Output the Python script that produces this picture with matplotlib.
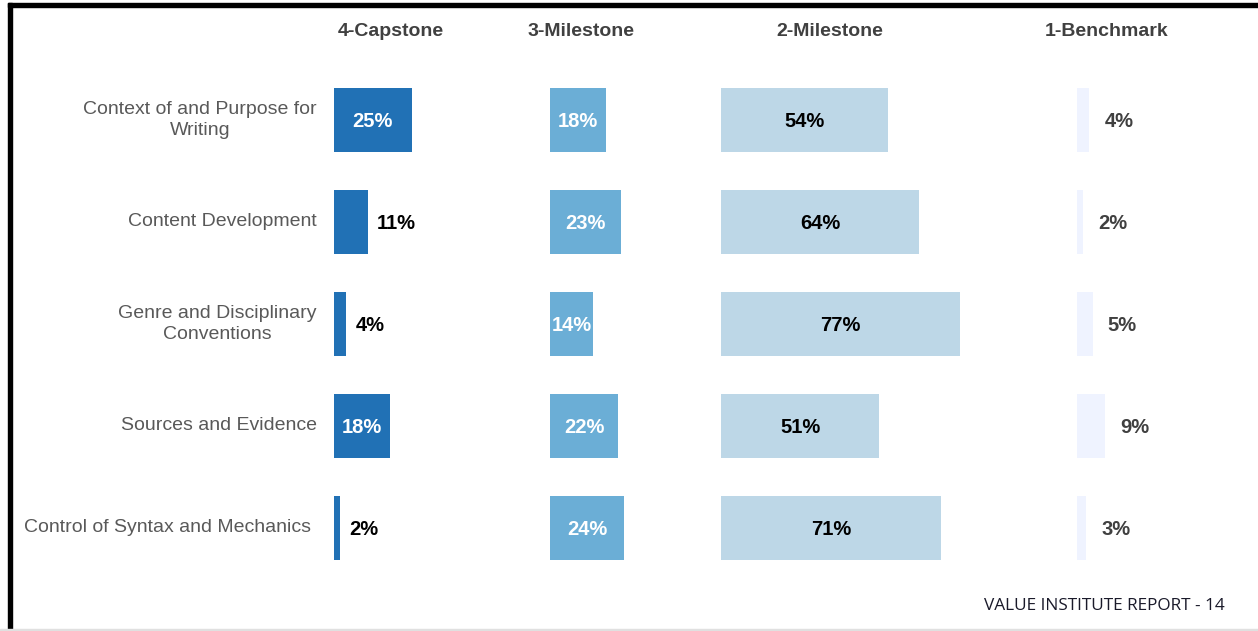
import matplotlib.pyplot as plt
from matplotlib.patches import Rectangle

categories = [
    'Context of and Purpose for\nWriting',
    'Content Development',
    'Genre and Disciplinary\nConventions',
    'Sources and Evidence',
    'Control of Syntax and Mechanics',
]
levels = ['4-Capstone', '3-Milestone', '2-Milestone', '1-Benchmark']
capstone = [25, 11, 4, 18, 2]
milestone3 = [18, 23, 14, 22, 24]
milestone2 = [54, 64, 77, 51, 71]
benchmark = [4, 2, 5, 9, 3]
series = [capstone, milestone3, milestone2, benchmark]

colors = ['#2171b5', '#6baed6', '#bdd7e7', '#eff3ff']
inside_color = ['white', 'white', 'black', 'black']
outside_color = ['black', 'black', 'black', '#404040']
outside_pad = [9, 9, 9, 15]
label_pad = [-17, -17, -17, -17, -23]

W, H = 1258, 631
col_left = [334, 550, 721, 1077]       # pixel start of each column
col_span = [60, 60, 85, 55]            # percent range shown per column
header_x = [391, 581, 830, 1107]
px_per_pct = 3.1

fig = plt.figure(figsize=(W / 100, H / 100), dpi=100)
plt.rcParams['font.family'] = ['Liberation Sans', 'DejaVu Sans']

top_px, rows_px = 69, 510
for i, vals in enumerate(series):
    ax = fig.add_axes([col_left[i] / W, 1 - (top_px + rows_px) / H,
                       col_span[i] * px_per_pct / W, rows_px / H])
    ax.barh(range(len(vals)), vals, height=0.63, color=colors[i])
    ax.set_xlim(0, col_span[i])
    ax.set_ylim(len(vals) - 0.5, -0.5)
    ax.axis('off')
    for j, v in enumerate(vals):
        if v >= 14:
            ax.text(v / 2, j + 0.01, f'{v}%', ha='center', va='center',
                    fontsize=14.5, fontweight='bold', color=inside_color[i])
        else:
            ax.annotate(f'{v}%', (v, j + 0.01), xytext=(outside_pad[i], 0),
                        textcoords='offset pixels', ha='left', va='center',
                        fontsize=14.5, fontweight='bold', color=outside_color[i])
    if i == 0:
        for j, c in enumerate(categories):
            ax.annotate(c, (0, j), xytext=(label_pad[j], 0),
                        textcoords='offset pixels',
                        ha='right', va='center', multialignment='center',
                        fontsize=14, color='#595959', annotation_clip=False,
                        linespacing=1.25)
    fig.text(header_x[i] / W, 1 - 31 / H, levels[i], ha='center', va='center',
             fontsize=14, fontweight='bold', color='#404040')

fig.text(1225 / W, 1 - 606 / H, 'VALUE INSTITUTE REPORT - 14', ha='right',
         va='center', fontsize=12.4, color='#1a1a2a', family='Open Sans')

# frame of the page
fig.add_artist(Rectangle((8 / W, 1 - 7 / H), 1, 4 / H, color='black',
                         transform=fig.transFigure))
fig.add_artist(Rectangle((8 / W, 0), 4 / W, 1 - 3 / H, color='black',
                         transform=fig.transFigure))
fig.add_artist(Rectangle((0, 0), 1, 2 / H, color='#e0e0e0',
                         transform=fig.transFigure))

fig.savefig('out.png', dpi=100)
